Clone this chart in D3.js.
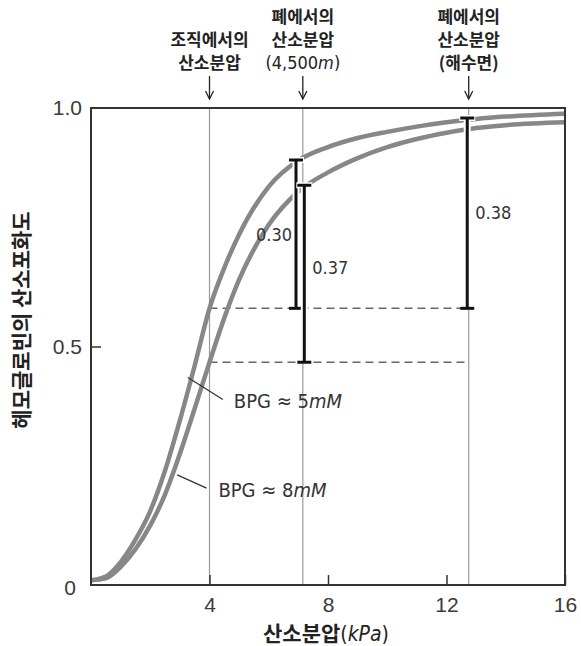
<!DOCTYPE html>
<html>
<head>
<meta charset="utf-8">
<script src="https://cdn.jsdelivr.net/npm/d3@7"></script>
<style>
  body { margin: 0; background: #fff; }
  text { font-family: "Liberation Sans Narrow", "DejaVu Sans Condensed", "Liberation Sans", sans-serif; }
  .kr { font-family: "Noto Sans CJK KR", sans-serif; }
</style>
</head>
<body>
<div id="chart"></div>
<script>
// oxygen partial pressure (kPa)
var pO2 = [0, 0.5, 1, 1.5, 2, 2.5, 3, 3.5, 4, 4.5, 5, 6, 7, 8, 9, 10, 11, 12, 13, 14, 16];
// saturation, BPG ~ 5 mM
var sat5 = [0.01, 0.018, 0.048, 0.095, 0.155, 0.24, 0.345, 0.46, 0.58, 0.665, 0.735, 0.835, 0.89, 0.918, 0.937, 0.95, 0.961, 0.97, 0.977, 0.982, 0.988];
// saturation, BPG ~ 8 mM
var sat8 = [0.01, 0.014, 0.038, 0.075, 0.125, 0.19, 0.275, 0.37, 0.467, 0.56, 0.64, 0.755, 0.825, 0.865, 0.895, 0.918, 0.935, 0.948, 0.958, 0.964, 0.97];

var xTicks = [4, 8, 12, 16];
var yTicks = [0, 0.5, 1.0];

// reference pressures: tissue, lungs at 4500 m, lungs at sea level
var refP = [4, 7.15, 12.75];
var refLabels = [
  ["조직에서의", "산소분압"],
  ["폐에서의", "산소분압", "(4,500m)"],
  ["폐에서의", "산소분압", "(해수면)"]
];

// unloaded fraction bars: x, top, bottom, label
var barX = [6.92, 7.2, 12.7];
var barTop = [0.891, 0.838, 0.979];
var barBottom = [0.58, 0.467, 0.58];
var barLabels = ["0.30", "0.37", "0.38"];

var svgWidth = 581;
var svgHeight = 646;
var margin = { top: 108, right: 16, bottom: 61, left: 91 };
var width = svgWidth - margin.left - margin.right;
var height = svgHeight - margin.top - margin.bottom;

var svg = d3.select("#chart").append("svg")
  .attr("width", svgWidth)
  .attr("height", svgHeight);

var g = svg.append("g")
  .attr("transform", `translate(${margin.left}, ${margin.top})`);

var x = d3.scaleLinear().domain([0, 16]).range([0, width]);
var y = d3.scaleLinear().domain([0, 1]).range([height, 0]);

// grey reference verticals
g.selectAll(".ref")
  .data(refP)
  .enter().append("line")
  .attr("x1", d => x(d)).attr("x2", d => x(d))
  .attr("y1", 0).attr("y2", height)
  .attr("stroke", "#9a9a9a").attr("stroke-width", 1.2);

// dashed levels
g.selectAll(".lvl")
  .data([barBottom[0], barBottom[1]])
  .enter().append("line")
  .attr("x1", x(refP[0])).attr("x2", x(barX[2]))
  .attr("y1", d => y(d)).attr("y2", d => y(d))
  .attr("stroke", "#666").attr("stroke-width", 1.5)
  .attr("stroke-dasharray", "8,5");

// curves
var line = d3.line()
  .x(d => x(d[0]))
  .y(d => y(d[1]))
  .curve(d3.curveMonotoneX);

[sat5, sat8].forEach(function(s) {
  g.append("path")
    .datum(pO2.map((p, i) => [p, s[i]]))
    .attr("d", line)
    .attr("fill", "none")
    .attr("stroke", "#878787")
    .attr("stroke-width", 4.5);
});

// bars with white halo
var bars = g.selectAll(".bar").data(barX).enter().append("g");
bars.each(function(d, i) {
  var b = d3.select(this);
  var px = x(d);
  b.append("line")
    .attr("x1", px).attr("x2", px)
    .attr("y1", y(barTop[i]) - 2).attr("y2", y(barBottom[i]))
    .attr("stroke", "#fff").attr("stroke-width", 7);
  b.append("line")
    .attr("x1", px - 8).attr("x2", px + 8)
    .attr("y1", y(barTop[i])).attr("y2", y(barTop[i]))
    .attr("stroke", "#fff").attr("stroke-width", 6);
  b.append("line")
    .attr("x1", px).attr("x2", px)
    .attr("y1", y(barTop[i])).attr("y2", y(barBottom[i]))
    .attr("stroke", "#111").attr("stroke-width", 3);
  [barTop[i], barBottom[i]].forEach(function(v) {
    b.append("line")
      .attr("x1", px - 7).attr("x2", px + 7)
      .attr("y1", y(v)).attr("y2", y(v))
      .attr("stroke", "#111").attr("stroke-width", 3);
  });
});

// bar labels
var labelPos = [[-4, "end", 0.735], [8, "start", 0.665], [8, "start", 0.78]];
barLabels.forEach(function(t, i) {
  g.append("text")
    .attr("x", x(barX[i]) + labelPos[i][0])
    .attr("y", y(labelPos[i][2]))
    .attr("dy", "0.35em")
    .attr("text-anchor", labelPos[i][1])
    .attr("font-size", 18)
    .attr("fill", "#333")
    .text(t);
});

// curve callouts
function callout(x1, y1, x2, y2, tx, ty, num) {
  g.append("line")
    .attr("x1", x(x1)).attr("y1", y(y1))
    .attr("x2", x(x2)).attr("y2", y(y2))
    .attr("stroke", "#333").attr("stroke-width", 1.3);
  var t = g.append("text")
    .attr("x", x(tx)).attr("y", y(ty))
    .attr("font-size", 20).attr("fill", "#333");
  t.append("tspan").text("BPG \u2248 " + num);
  t.append("tspan").attr("font-style", "italic").text("mM");
}
callout(3.27, 0.435, 4.45, 0.389, 4.82, 0.372, "5");
callout(2.91, 0.231, 3.9, 0.203, 4.3, 0.185, "8");

// frame
g.append("rect")
  .attr("width", width).attr("height", height)
  .attr("fill", "none")
  .attr("stroke", "#333").attr("stroke-width", 2);

// axes
var xAxis = g.append("g")
  .attr("transform", `translate(0, ${height})`)
  .call(d3.axisBottom(x).tickValues(xTicks).tickSize(-10).tickPadding(20).tickFormat(d3.format("d")));
var yAxis = g.append("g")
  .call(d3.axisLeft(y).tickValues(yTicks).tickSize(-10).tickPadding(9)
    .tickFormat(d => d === 0 ? "0" : d3.format(".1f")(d)));

[xAxis, yAxis].forEach(function(a) {
  a.select(".domain").remove();
  a.selectAll(".tick line").attr("stroke", "#333").attr("stroke-width", 1.5);
  a.selectAll(".tick text")
    .attr("font-size", 21)
    .attr("fill", "#3a3a3a")
    .style("font-family", "'Liberation Sans', sans-serif");
});
xAxis.selectAll(".tick text").attr("dy", "0.35em");
yAxis.selectAll(".tick").filter(d => d === 0).select("line").remove();
yAxis.selectAll(".tick").filter(d => d === 0).select("text").attr("x", -15).attr("dy", "0.45em");
yAxis.selectAll(".tick").filter(d => d === 1).select("line").remove();

// x label
var xl = g.append("text")
  .attr("x", width / 2 - 2).attr("y", height + 56)
  .attr("text-anchor", "middle")
  .attr("font-size", 21).attr("fill", "#222");
xl.append("tspan").attr("class", "kr").attr("font-weight", "bold").text("산소분압");
xl.append("tspan").text("(");
xl.append("tspan").attr("font-style", "italic").text("kPa");
xl.append("tspan").text(")");

// y label
svg.append("text")
  .attr("class", "kr")
  .attr("transform", "translate(29, 320) rotate(-90)")
  .attr("text-anchor", "middle")
  .attr("font-size", 21).attr("font-weight", "bold").attr("fill", "#222")
  .text("헤모글로빈의 산소포화도");

// top annotations
refLabels.forEach(function(lines, i) {
  var cx = margin.left + x(refP[i]);
  var n = lines.length;
  lines.forEach(function(t, j) {
    var row = 3 - n + j;
    var tx = svg.append("text")
      .attr("x", cx).attr("y", 23 + row * 23)
      .attr("text-anchor", "middle")
      .attr("font-size", 17).attr("fill", "#222");
    if (t === "(4,500m)") {
      tx.attr("font-size", 18);
      tx.append("tspan").text("(4,500");
      tx.append("tspan").attr("font-style", "italic").text("m");
      tx.append("tspan").text(")");
    } else {
      tx.attr("class", "kr").attr("font-weight", "bold").text(t);
    }
  });
  svg.append("line")
    .attr("x1", cx).attr("x2", cx)
    .attr("y1", 76).attr("y2", 98)
    .attr("stroke", "#222").attr("stroke-width", 1.3);
  svg.append("path")
    .attr("d", `M${cx - 4},${91} L${cx},${99} L${cx + 4},${91}`)
    .attr("fill", "none")
    .attr("stroke", "#222").attr("stroke-width", 1.3);
});
</script>
</body>
</html>
